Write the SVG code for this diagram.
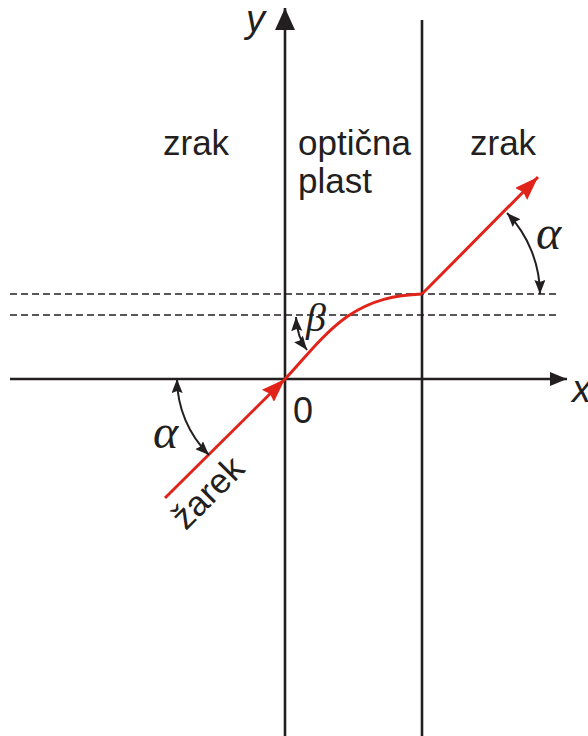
<svg xmlns="http://www.w3.org/2000/svg" width="588" height="736" viewBox="0 0 588 736">
<style>
.ax{stroke:#231f20;stroke-width:2.6;fill:none}
.dash{stroke:#231f20;stroke-width:1.3;stroke-dasharray:7 4;fill:none}
.ray{stroke:#e2231a;stroke-width:3;fill:none}
.arc{stroke:#231f20;stroke-width:2;fill:none;marker-start:url(#sa);marker-end:url(#sa)}
.t{font-family:"Liberation Sans",Arial,sans-serif;font-size:35px;fill:#231f20}
.v{font-family:"Liberation Sans",Arial,sans-serif;font-style:italic;font-size:38px;fill:#231f20}
.g{font-family:"Liberation Serif","DejaVu Serif",serif;font-style:italic;font-size:48px;fill:#231f20}
</style>
<defs>
<marker id="ya" markerUnits="userSpaceOnUse" viewBox="0 0 22 20" refX="22" refY="10" markerWidth="22" markerHeight="20" orient="auto"><path d="M0,0 L22,10 L0,20 z" fill="#231f20"/></marker>
<marker id="xa" markerUnits="userSpaceOnUse" viewBox="0 0 17 14" refX="17" refY="7" markerWidth="17" markerHeight="14" orient="auto"><path d="M0,0 L17,7 L0,14 z" fill="#231f20"/></marker>
<marker id="ra" markerUnits="userSpaceOnUse" viewBox="0 0 24 17" refX="24" refY="8.5" markerWidth="24" markerHeight="17" orient="auto"><path d="M0,0 L24,8.5 L0,17 L3,8.5 z" fill="#e2231a"/></marker>
<marker id="sa" markerUnits="userSpaceOnUse" viewBox="0 0 14 11" refX="14" refY="5.5" markerWidth="14" markerHeight="11" orient="auto-start-reverse"><path d="M0,0 L14,5.5 L0,11 L2,5.5 z" fill="#231f20"/></marker>
</defs>
<g id="axes">
<path id="x-axis" class="ax" d="M10,379 H567" marker-end="url(#xa)"/>
<path id="y-axis" class="ax" d="M285,736 V8" marker-end="url(#ya)"/>
<path id="boundary" class="ax" d="M422,20 V736"/>
<path class="dash" d="M10,294 H558"/>
<path class="dash" d="M10,315 H558"/>
</g>
<g id="connectors">
<path id="ray-in" class="ray" d="M165,498 L285,379" marker-end="url(#ra)"/>
<path id="ray-mid" class="ray" d="M285,379 C300,364 322,334 348,316 C372,300 395,295 422,294"/>
<path id="ray-out" class="ray" d="M422,294 L538,177" marker-end="url(#ra)"/>
<path id="alpha-right-arc" class="arc" d="M507,213 A118,118 0 0 1 540,294"/>
<path id="alpha-left-arc" class="arc" d="M177,379 A108,108 0 0 0 209,455"/>
<path id="beta-arc" class="arc" d="M296,317 Q297,337 307,350"/>
</g>
<g id="labels">
<text class="v" x="246" y="32">y</text>
<text class="v" x="572" y="402">x</text>
<text class="t" x="293" y="423" style="font-size:36px">0</text>
<text class="t" x="163" y="155">zrak</text>
<text class="t" x="298" y="155">optična</text>
<text class="t" x="298" y="193">plast</text>
<text class="t" x="470" y="155">zrak</text>
<text class="g" x="536" y="249">α</text>
<text class="g" x="153" y="448">α</text>
<text class="g" x="306" y="331" style="font-size:40px">β</text>
<text class="t" transform="translate(216,501) rotate(-45)" text-anchor="middle">žarek</text>
</g>
</svg>
